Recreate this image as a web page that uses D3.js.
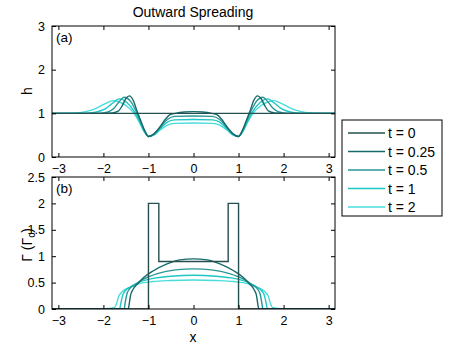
<!DOCTYPE html>
<html>
<head>
<meta charset="utf-8">
<script src="https://cdn.jsdelivr.net/npm/d3@7"></script>
<style>
  body { margin: 0; background: #fff; }
  svg { font-family: "Liberation Sans", Arial, sans-serif; display: block; }
  .tick text { font-size: 12.5px; fill: #000; }
</style>
</head>
<body>
<div id="chart"></div>
<script>
// Legend labels and colours
const seriesNames = ['t = 0', 't = 0.25', 't = 0.5', 't = 1', 't = 2'];
const seriesColors = ['#264f4f', '#17696a', '#2a9696', '#1ec6c6', '#48dcdc'];

const xTicks = [-3, -2, -1, 0, 1, 2, 3];
const hTicks = [0, 1, 2, 3];
const gTicks = [0, 0.5, 1, 1.5, 2, 2.5];

// Right half (x >= 0) of each profile; curves are symmetric
const hHalf0 = [[0, 1], [3.1416, 1]];
const hHalf025 = [[0, 1.04], [0.2, 1.03], [0.4, 1.0], [0.52, 0.97], [0.62, 0.87], [0.75, 0.68], [0.88, 0.53], [1.0, 0.47], [1.08, 0.6], [1.16, 0.8], [1.25, 1.04], [1.34, 1.3], [1.42, 1.4], [1.5, 1.34], [1.58, 1.18], [1.67, 1.05], [1.8, 1.01], [2.0, 1.0], [3.1416, 1.0]];
const hHalf05 = [[0, 0.94], [0.42, 0.93], [0.58, 0.86], [0.74, 0.68], [0.88, 0.52], [1.0, 0.47], [1.09, 0.6], [1.18, 0.82], [1.28, 1.06], [1.4, 1.28], [1.54, 1.37], [1.64, 1.28], [1.76, 1.12], [1.9, 1.03], [2.1, 1.0], [3.1416, 1.0]];
const hHalf1 = [[0, 0.86], [0.42, 0.85], [0.58, 0.8], [0.74, 0.65], [0.88, 0.51], [1.0, 0.47], [1.1, 0.6], [1.2, 0.82], [1.32, 1.05], [1.48, 1.25], [1.65, 1.33], [1.8, 1.23], [1.96, 1.1], [2.15, 1.03], [2.4, 1.0], [3.1416, 1.0]];
const hHalf2 = [[0, 0.78], [0.42, 0.77], [0.58, 0.73], [0.74, 0.62], [0.88, 0.5], [1.0, 0.47], [1.1, 0.59], [1.2, 0.79], [1.32, 1.0], [1.5, 1.18], [1.65, 1.26], [1.78, 1.29], [1.95, 1.23], [2.15, 1.12], [2.35, 1.05], [2.6, 1.01], [3.1416, 1.0]];

const gHalf0 = [[0, 0.9], [0.77, 0.9], [0.77, 2], [1.0, 2], [1.0, 0], [3.1416, 0]];
const gHalf025 = [[0, 0.95], [0.3, 0.93], [0.6, 0.85], [0.9, 0.72], [1.1, 0.6], [1.25, 0.47], [1.35, 0.36], [1.4, 0.25], [1.43, 0.08], [1.45, 0], [3.1416, 0]];
const gHalf05 = [[0, 0.76], [0.4, 0.74], [0.8, 0.67], [1.1, 0.57], [1.3, 0.46], [1.42, 0.38], [1.48, 0.28], [1.52, 0.1], [1.54, 0], [3.1416, 0]];
const gHalf1 = [[0, 0.64], [0.5, 0.62], [0.9, 0.58], [1.2, 0.51], [1.4, 0.42], [1.52, 0.34], [1.58, 0.24], [1.62, 0.08], [1.64, 0], [3.1416, 0]];
const gHalf2 = [[0, 0.55], [0.5, 0.54], [0.9, 0.52], [1.2, 0.48], [1.4, 0.41], [1.58, 0.33], [1.66, 0.24], [1.71, 0.1], [1.75, 0.03], [1.9, 0.01], [2.1, 0], [3.1416, 0]];

const hSeries = [hHalf0, hHalf025, hHalf05, hHalf1, hHalf2];
const gSeries = [gHalf0, gHalf025, gHalf05, gHalf1, gHalf2];

function mirror(half) {
    const left = half.slice(1).map(([x, y]) => [-x, y]).reverse();
    return left.concat(half);
}

const W = 449, H = 346;
const svg = d3.select('#chart').append('svg').attr('width', W).attr('height', H);

const left = 52, right = 335;
const x = d3.scaleLinear().domain([-Math.PI, Math.PI]).range([left, right]);

function panel(id, top, bottom, yMax, yTicks, series, label) {
    const y = d3.scaleLinear().domain([0, yMax]).range([bottom, top]);
    const g = svg.append('g');

    g.append('clipPath').attr('id', id)
        .append('rect').attr('x', left).attr('y', top).attr('width', right - left).attr('height', bottom - top);

    const plot = g.append('g').attr('clip-path', `url(#${id})`);
    // draw lightest first so t = 0 ends on top
    series.map((half, i) => i).reverse().forEach(i => {
        const line = d3.line()
            .x(d => x(d[0])).y(d => y(d[1]))
            .curve(i > 0 ? d3.curveMonotoneX : d3.curveLinear);
        plot.append('path')
            .attr('d', line(mirror(series[i])))
            .attr('fill', 'none')
            .attr('stroke', seriesColors[i])
            .attr('stroke-width', 1.4);
    });

    // axes with inward ticks on all sides
    g.append('g').attr('transform', `translate(0,${bottom})`)
        .call(d3.axisBottom(x).tickValues(xTicks).tickSizeInner(-4).tickSizeOuter(0).tickPadding(7)
            .tickFormat(d => d < 0 ? '\u2212' + Math.abs(d) : d));
    g.append('g').attr('transform', `translate(0,${top})`)
        .call(d3.axisTop(x).tickValues(xTicks).tickSizeInner(-4).tickSizeOuter(0).tickFormat(''));
    g.append('g').attr('transform', `translate(${left},0)`)
        .call(d3.axisLeft(y).tickValues(yTicks).tickSizeInner(-4).tickSizeOuter(0).tickPadding(7)
            .tickFormat(d3.format('')));
    g.append('g').attr('transform', `translate(${right},0)`)
        .call(d3.axisRight(y).tickValues(yTicks).tickSizeInner(-4).tickSizeOuter(0).tickFormat(''));
    g.selectAll('.domain').remove();
    g.selectAll('.tick line').attr('stroke', '#000');

    g.append('rect')
        .attr('x', left).attr('y', top).attr('width', right - left).attr('height', bottom - top)
        .attr('fill', 'none').attr('stroke', '#000').attr('stroke-width', 1);

    g.append('text').attr('x', left + 4).attr('y', top + 16)
        .attr('font-size', 13.5).text(label);
    return g;
}

panel('clipA', 26, 157, 3, hTicks, hSeries, '(a)');
panel('clipB', 177, 309, 2.5, gTicks, gSeries, '(b)');

// title and axis labels
svg.append('text').attr('x', 193).attr('y', 17).attr('text-anchor', 'middle')
    .attr('font-size', 14).text('Outward Spreading');
svg.append('text').attr('x', 193).attr('y', 342).attr('text-anchor', 'middle')
    .attr('font-size', 14).text('x');
svg.append('text').attr('transform', 'translate(32,91) rotate(-90)').attr('text-anchor', 'middle')
    .attr('font-size', 14).text('h');
const gl = svg.append('text').attr('transform', 'translate(32,245) rotate(-90)').attr('text-anchor', 'middle')
    .attr('font-size', 14);
gl.append('tspan').text('\u0393 (\u0393');
gl.append('tspan').attr('font-size', 10).attr('baseline-shift', '-30%').text('c');
gl.append('tspan').text(')');

// legend
const lg = svg.append('g');
lg.append('rect').attr('x', 342).attr('y', 120).attr('width', 100).attr('height', 96)
    .attr('fill', '#fff').attr('stroke', '#000').attr('stroke-width', 1);
seriesNames.forEach((name, i) => {
    const yy = 133 + i * 18.5;
    lg.append('line').attr('x1', 348).attr('x2', 385).attr('y1', yy).attr('y2', yy)
        .attr('stroke', seriesColors[i]).attr('stroke-width', 1.4);
    lg.append('text').attr('x', 388).attr('y', yy + 5).attr('font-size', 14).text(name);
});
</script>
</body>
</html>
